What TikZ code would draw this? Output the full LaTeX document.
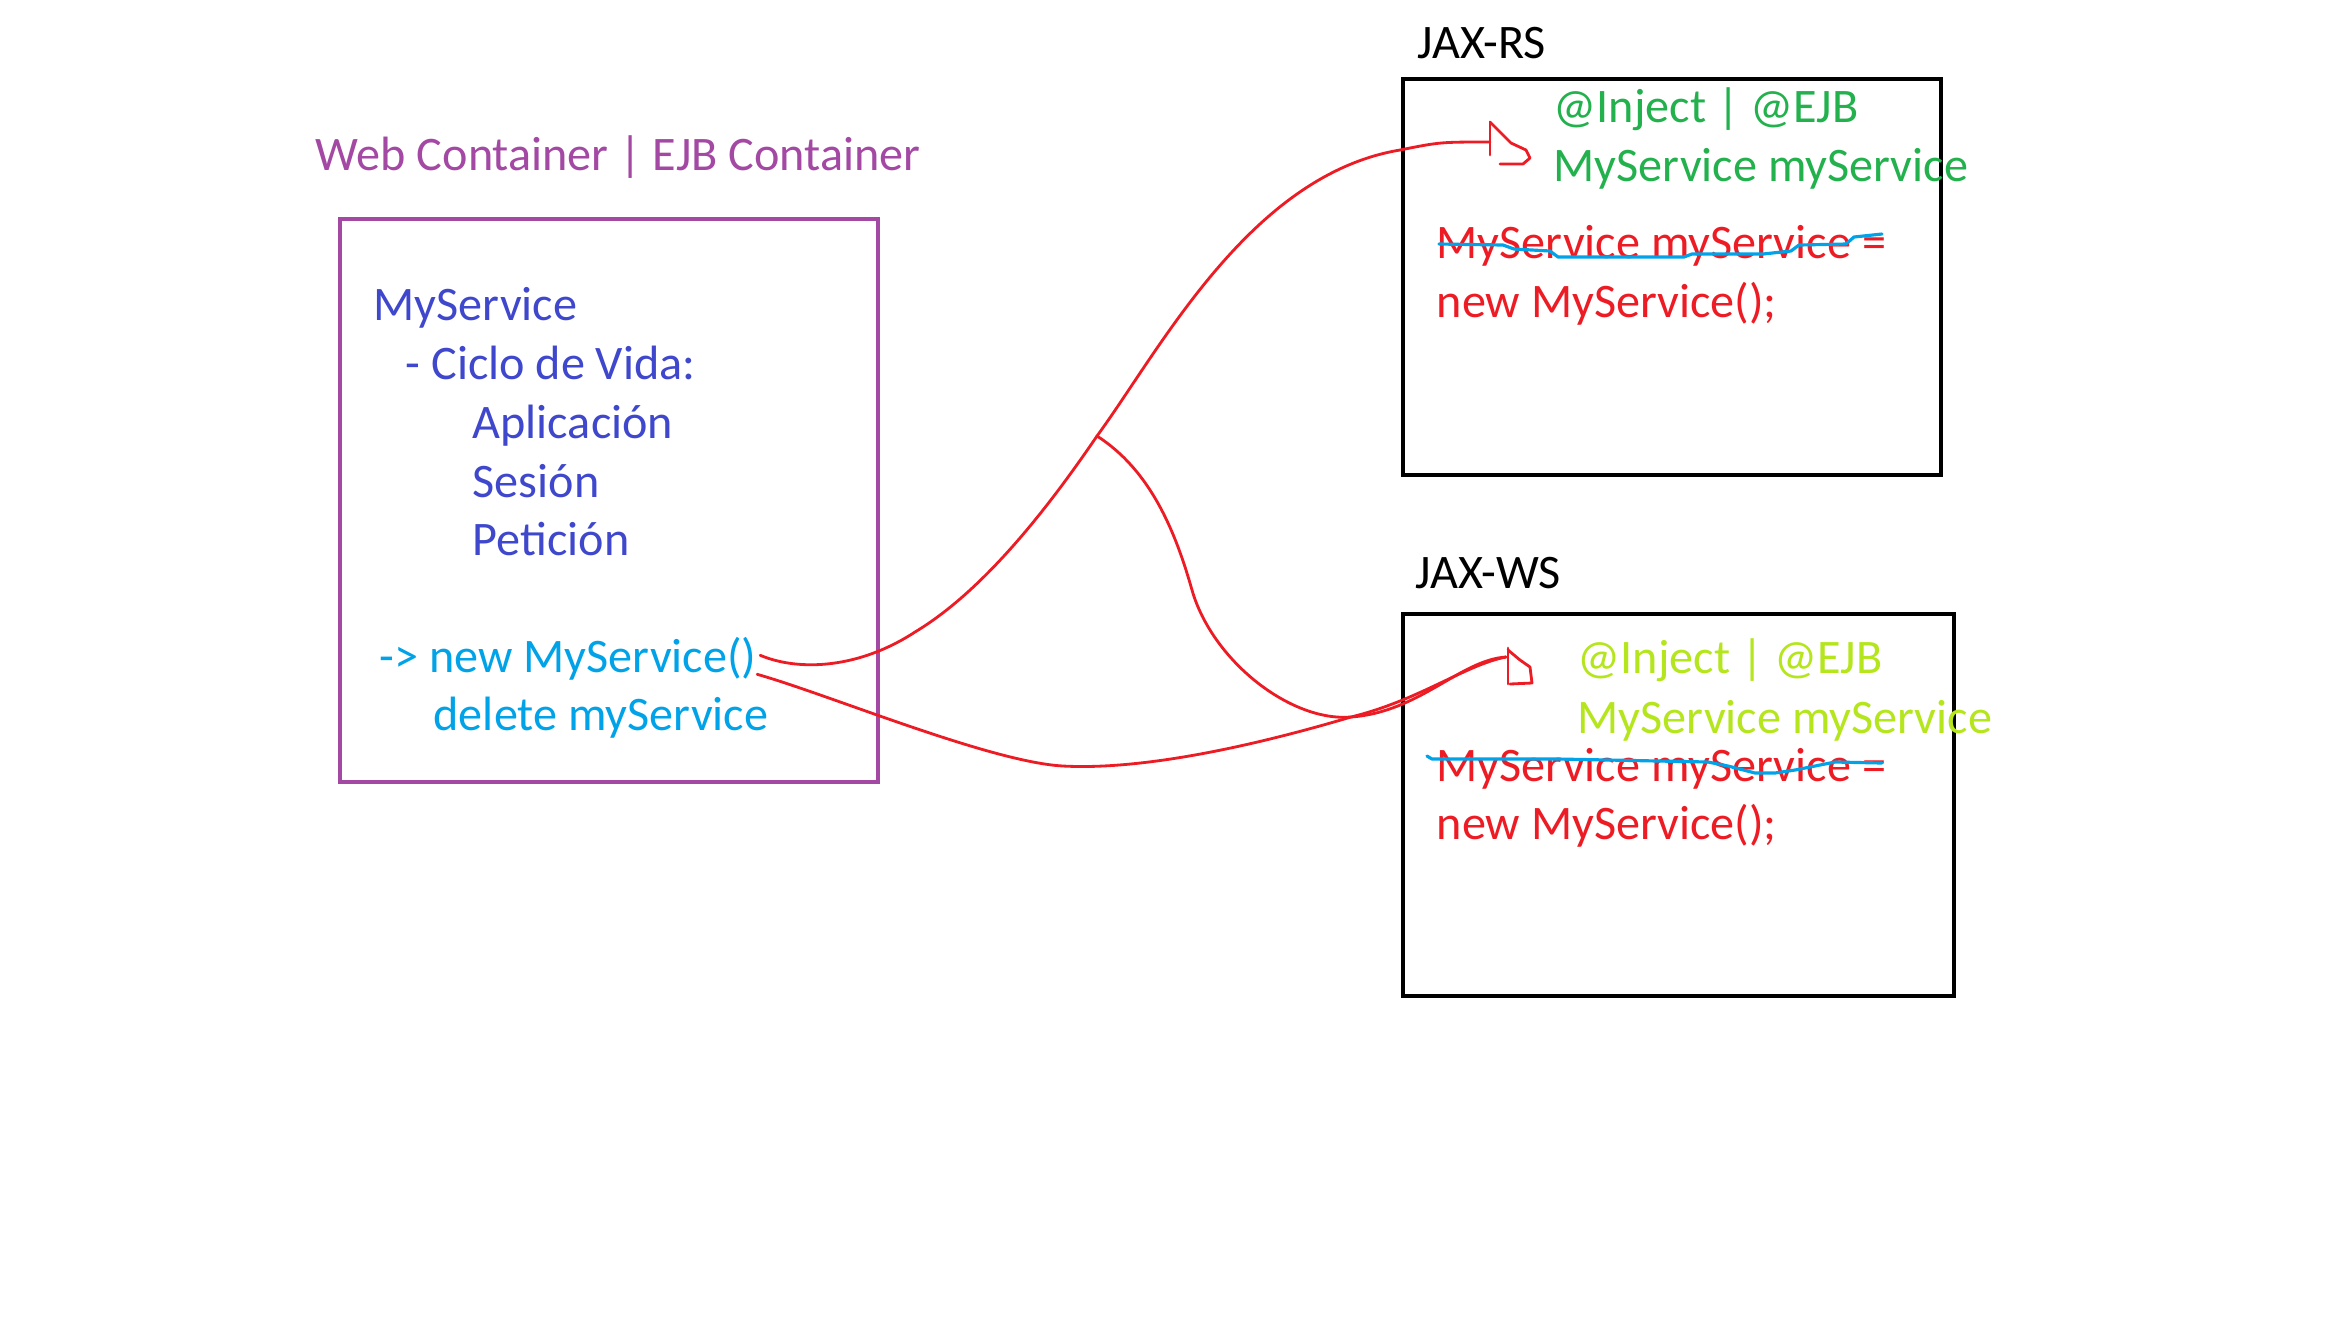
\documentclass[tikz,border=0pt]{standalone}
\usepackage{fontspec}
\setmainfont{Carlito}
\definecolor{paintpurple}{HTML}{A349A4}
\definecolor{paintindigo}{HTML}{3F48CC}
\definecolor{paintcyan}{HTML}{00A2E8}
\definecolor{paintgreen}{HTML}{22B14C}
\definecolor{paintlime}{HTML}{B5E61D}
\definecolor{paintred}{HTML}{ED1C24}

\begin{document}
\begin{tikzpicture}[x=0.01cm, y=-0.01cm,
  txt/.style={inner sep=0pt, anchor=base west, font=\fontsize{13.7}{16.5}\selectfont},
  box/.style={draw, line width=1.3pt, inner sep=0pt},
  pen/.style={draw=paintred, line width=0.8pt, line join=round, line cap=round},
  strike/.style={draw=paintcyan, line width=0.9pt, line join=round, line cap=round}
]
\path[use as bounding box, fill=white] (0,0) rectangle (2341,1323);

% container
\node[txt, text=paintpurple] (title) at (315,170) {Web Container | EJB Container};
\node[box, draw=paintpurple, line width=1.2pt, minimum width=5.38cm, minimum height=5.63cm] (web) at (609,500.5) {};
\node[txt, text=paintindigo] (svc) at (373,320) {MyService};
\node[txt, text=paintindigo] (ciclo) at (405,379) {- Ciclo de Vida:};
\node[txt, text=paintindigo] (app) at (472,438) {Aplicación};
\node[txt, text=paintindigo] (ses) at (472,497) {Sesión};
\node[txt, text=paintindigo] (pet) at (472,555) {Petición};
\node[txt, text=paintcyan] (newsvc) at (379,672) {-> new MyService()};
\node[txt, text=paintcyan] (delsvc) at (433,730) {delete myService};

% JAX-RS
\node[txt] (rslabel) at (1417,58) {JAX-RS};
\node[box, minimum width=5.38cm, minimum height=3.96cm] (rs) at (1672,277) {};
\node[txt, text=paintgreen] (rsinj) at (1553,122) {@Inject | @EJB};
\node[txt, text=paintgreen] (rsfield) at (1553,181) {MyService myService};
\node[txt, text=paintred] (rsold) at (1436,258) {MyService myService =};
\node[txt, text=paintred] (rsnew) at (1436,317) {new MyService();};
\draw[strike] (1439,244) -- (1503,245) -- (1514,249) -- (1550,251) -- (1558,257) -- (1684,257) -- (1692,254) -- (1763,254) -- (1791,251) -- (1799,245) -- (1846,244) -- (1854,237) -- (1882,234);

% JAX-WS
\node[txt] (wslabel) at (1415,588) {JAX-WS};
\node[box, minimum width=5.51cm, minimum height=3.82cm] (ws) at (1678.5,805) {};
\node[txt, text=paintlime] (wsinj) at (1577,673) {@Inject | @EJB};
\node[txt, text=paintlime] (wsfield) at (1577,733) {MyService myService};
\node[txt, text=paintred] (wsold) at (1436,781) {MyService myService =};
\node[txt, text=paintred] (wsnew) at (1436,839) {new MyService();};
\draw[strike] (1427,756) -- (1432,759) -- (1558,759) -- (1708,762) -- (1728,766) -- (1755,773) -- (1775,773) -- (1795,770) -- (1815,766) -- (1835,762) -- (1882,763);

% injection strokes
\coordinate (fork) at (1097,436);
\coordinate (rstip) at (1490,142);
\coordinate (wstip) at (1506,657);

\draw[pen] ([xshift=0.03cm, yshift=0.03cm]newsvc.east) .. controls (800,672) and (860,668) .. (915,632)
  .. controls (985,590) and (1050,505) .. (fork)
  .. controls (1160,350) and (1250,175) .. (1400,150) .. controls (1440,142) .. (rstip);
\draw[pen] (fork) .. controls (1150,470) and (1175,530) .. (1192,590)
  .. controls (1212,660) and (1290,722) .. (1351,717)
  .. controls (1420,712) and (1460,660) .. (wstip);
\draw[pen] ([yshift=-0.16cm]newsvc.east) .. controls (830,695) and (990,762) .. (1063,766)
  .. controls (1136,770) and (1240,750) .. (1351,717)
  .. controls (1420,700) and (1465,665) .. (wstip);

% hand drawn heads
\draw[pen] (rstip) ++(0,-20) -- ++(0,33);
\draw[pen] (rstip) ++(0,-20) -- ++(21,21) -- ++(15,7) -- ++(4,8) -- ++(-7,6) -- ++(-23,0);
\draw[pen] (wstip) ++(2,-9) -- ++(0,36);
\draw[pen] (wstip) ++(2,-7) -- ++(12,10) -- ++(10,7) -- ++(2,16) -- ++(-22,1);
\end{tikzpicture}
\end{document}
